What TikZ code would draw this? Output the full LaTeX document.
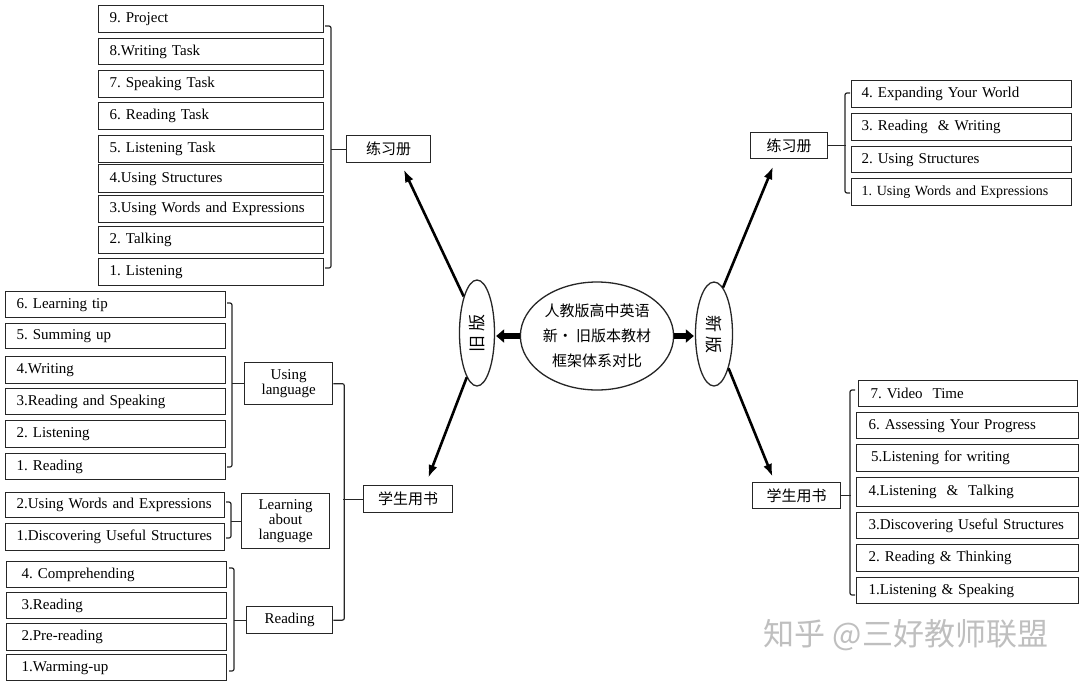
\documentclass[tikz,border=0pt]{standalone}
\usepackage{fontspec}
\setmainfont{Liberation Serif}
\newfontfamily\cjk{Noto Sans CJK SC}
\usetikzlibrary{arrows.meta,shapes.geometric,calc}
\frenchspacing
\begin{document}
\begin{tikzpicture}[x=1pt,y=-1pt,
 ln/.style={line width=1.3pt, draw=black!85},
 item/.style={ln, anchor=north west, inner xsep=11pt, inner ysep=0pt, align=left, font=\fontsize{15}{17}\selectfont},
 gOld/.style={text width=203pt, inner xsep=11pt},
 gUse/.style={text width=198pt, inner xsep=11pt},
 gLrn/.style={text width=197pt, inner xsep=11pt},
 gRd/.style={text width=190pt, inner xsep=15pt},
 gNw/.style={text width=200pt, inner xsep=10pt},
 gNs/.style={text width=198pt, inner xsep=12pt},
 hub/.style={ln, anchor=north west, inner sep=0pt, align=center, font=\fontsize{15}{15}\selectfont},
 cbox/.style={hub, font=\cjk\fontsize{15}{16}\selectfont},
 brk/.style={line width=1.2pt, black!85, rounded corners=2pt},
 arr/.style={line width=2.6pt, -{Latex[length=13pt,width=9pt]}},
 fat/.style={line width=6pt, -{Triangle[length=8pt,width=13pt]}, shorten >=1pt},
 ell/.style={ln, ellipse, inner sep=0pt},
]
\useasboundingbox[fill=white] (0,0) rectangle (1080,681);

% ---------- old workbook list ----------
\node[item,gOld,minimum height=27pt] (o9) at (98,5) {9. Project};
\node[item,gOld,minimum height=26pt] (o8) at (98,38) {8.Writing Task};
\node[item,gOld,minimum height=27pt] (o7) at (98,70) {7. Speaking Task};
\node[item,gOld,minimum height=27pt] (o6) at (98,102) {6. Reading Task};
\node[item,gOld,minimum height=27pt] (o5) at (98,135) {5. Listening Task};
\node[item,gOld,minimum height=28pt] (o4) at (98,164) {4.Using Structures};
\node[item,gOld,minimum height=27pt] (o3) at (98,195) {3.Using Words and Expressions};
\node[item,gOld,minimum height=27pt] (o2) at (98,226) {2. Talking};
\node[item,gOld,minimum height=27pt] (o1) at (98,258) {1. Listening};
\node[cbox,minimum width=84pt,minimum height=27pt] (owb) at (346,135) {练习册};
\draw[brk] (325,26) -- (331,26) -- (331,268) -- (325,268);
\draw[brk] (owb.west) -- ++(-15,0);

% ---------- Using language ----------
\node[item,gUse,minimum height=26pt] (u6) at (5,291) {6. Learning tip};
\node[item,gUse,minimum height=25pt] (u5) at (5,323) {5. Summing up};
\node[item,gUse,minimum height=27pt] (u4) at (5,356) {4.Writing};
\node[item,gUse,minimum height=26pt] (u3) at (5,388) {3.Reading and Speaking};
\node[item,gUse,minimum height=27pt] (u2) at (5,420) {2. Listening};
\node[item,gUse,minimum height=26pt] (u1) at (5,453) {1. Reading};
\node[hub,minimum width=88pt,minimum height=42pt] (ul) at (244,362) {Using\\language};
\draw[brk] (227,303) -- (232,303) -- (232,467) -- (227,467);
\draw[brk] (ul.west) -- ++(-12,0);

% ---------- Learning about language ----------
\node[item,gLrn,minimum height=25pt] (a2) at (5,492) {2.Using Words and Expressions};
\node[item,gLrn,minimum height=27pt] (a1) at (5,523) {1.Discovering Useful Structures};
\node[hub,minimum width=88pt,minimum height=55pt] (la) at (241,493) {Learning\\about\\language};
\draw[brk] (226,502) -- (231,502) -- (231,538) -- (226,538);
\draw[brk] (la.west) -- ++(-10,0);

% ---------- Reading ----------
\node[item,gRd,minimum height=26pt] (r4) at (6,561) {4. Comprehending};
\node[item,gRd,minimum height=26pt] (r3) at (6,592) {3.Reading};
\node[item,gRd,minimum height=27pt] (r2) at (6,623) {2.Pre-reading};
\node[item,gRd,minimum height=26pt] (r1) at (6,654) {1.Warming-up};
\node[hub,minimum width=86pt,minimum height=27pt] (rd) at (246,606) {Reading};
\draw[brk] (229,568) -- (234,568) -- (234,671) -- (229,671);
\draw[brk] (rd.west) -- ++(-12,0);

% ---------- old student book ----------
\node[cbox,minimum width=89pt,minimum height=27pt] (sb) at (363,485) {学生用书};
\draw[brk] (ul.east) -- ++(11,0) |- (rd.east);
\draw[brk] (sb.west) -- ++(-20,0);

% ---------- new workbook ----------
\node[item,gNw,minimum height=27pt] (n4) at (851,80) {4. Expanding Your World};
\node[item,gNw,minimum height=27pt] (n3) at (851,113) {3. Reading\ \ \& Writing};
\node[item,gNw,minimum height=26pt] (n2) at (851,146) {2. Using Structures};
\node[item,gNw,minimum height=27pt,font=\fontsize{14}{16}\selectfont] (n1) at (851,178) {1. Using Words and Expressions};
\node[cbox,minimum width=77pt,minimum height=26pt] (nwb) at (750,132) {练习册};
\draw[brk] (850,93) -- (845,93) -- (845,193) -- (850,193);
\draw[brk] (nwb.east) -- ++(18,0);

% ---------- new student book ----------
\node[item,gNs,text width=195pt,minimum height=26pt] (b7) at (858,380) {7. Video\ \ Time};
\node[item,gNs,minimum height=26pt] (b6) at (856,412) {6. Assessing Your Progress};
\node[item,gNs,minimum height=27pt] (b5) at (856,444) {\,5.Listening for writing};
\node[item,gNs,minimum height=29pt] (b4) at (856,477) {4.Listening\ \ \&\ \ Talking};
\node[item,gNs,minimum height=26pt] (b3) at (856,512) {3.Discovering Useful Structures};
\node[item,gNs,minimum height=27pt] (b2) at (856,544) {2. Reading \& Thinking};
\node[item,gNs,minimum height=26pt] (b1) at (856,577) {1.Listening \& Speaking};
\node[cbox,minimum width=88pt,minimum height=26pt] (nsb) at (752,482) {学生用书};
\draw[brk] (855,390) -- (850,390) -- (850,595) -- (855,595);
\draw[brk] (nsb.east) -- ++(10,0);

% ---------- centre ----------
\node[ell,minimum width=35pt,minimum height=106pt] (oldE) at (477,333) {};
\node[rotate=90,font=\cjk\fontsize{17}{17}\selectfont] (oldT) at (oldE) {旧\hspace{4pt}版};
\node[ell,minimum width=37pt,minimum height=104pt] (newE) at (714,334) {};
\node[rotate=-90,font=\cjk\fontsize{17}{17}\selectfont] (newT) at (newE) {新\hspace{4pt}版};
\node[ell,minimum width=146pt,minimum height=108pt,align=center,
      font=\cjk\fontsize{15}{25}\selectfont] (cen) at (597,336)
      {人教版高中英语\\新• 旧版本教材\\框架体系对比};

\draw[fat] (cen.west) -- (cen.west -| oldE.east);
\draw[fat] (cen.east) -- (cen.east -| newE.west);

\draw[arr] (oldE.110) -- ([xshift=15pt,yshift=-6pt]owb.south);
\draw[arr] (oldE.257) -- ([xshift=20pt,yshift=7pt]sb.north);
\draw[arr] (newE.79) -- ([xshift=-16pt,yshift=-7pt]nwb.south);
\draw[arr] (newE.293) -- ([xshift=-24pt,yshift=5pt]nsb.north);

% ---------- watermark ----------
\node[font=\cjk\fontsize{31}{31}\selectfont, text=black!25] (wm) at (906,635) {知乎 @三好教师联盟};
\end{tikzpicture}
\end{document}
